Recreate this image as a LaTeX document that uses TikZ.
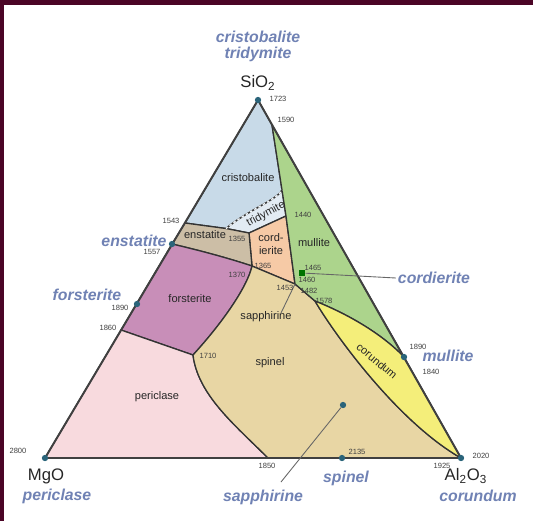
\documentclass[tikz,border=0pt]{standalone}
\usepackage{fontspec}
\setmainfont{Liberation Sans}

\definecolor{cristcol}{RGB}{200,218,232}
\definecolor{tridcol}{RGB}{226,235,243}
\definecolor{enstcol}{RGB}{204,190,166}
\definecolor{cordcol}{RGB}{246,202,166}
\definecolor{forscol}{RGB}{200,142,184}
\definecolor{pericol}{RGB}{248,218,222}
\definecolor{spincol}{RGB}{232,214,164}
\definecolor{mullcol}{RGB}{172,212,140}
\definecolor{corucol}{RGB}{244,238,122}
\definecolor{minlabel}{RGB}{112,130,180}
\definecolor{dotcol}{RGB}{42,100,122}
\definecolor{framecol}{RGB}{75,5,38}

\tikzset{
  bound/.style={draw=black!80, line width=0.75pt, line join=round},
  edge/.style={draw=black!75, line width=1.1pt, line join=round},
  leader/.style={draw=black!60, line width=0.5pt},
  mineral/.style={font=\fontsize{9}{10}\selectfont\bfseries\itshape, text=minlabel, inner sep=1pt},
  field/.style={font=\fontsize{6.3}{7}\selectfont, text=black!85, inner sep=0.5pt},
  temp/.style={font=\fontsize{4.3}{5}\selectfont, text=black!75, inner sep=0.3pt},
  oxide/.style={font=\fontsize{9.5}{11}\selectfont, text=black!85, inner sep=1pt},
  compdot/.style={circle, fill=dotcol, inner sep=0pt, minimum size=3.6pt}
}

\begin{document}
\begin{tikzpicture}[x=0.02cm, y=-0.02cm]
  \useasboundingbox (0,0) rectangle (533,521);
  \fill[white] (0,0) rectangle (533,521);
  \fill[framecol] (0,0) rectangle (533,4.5);
  \fill[framecol] (0,0) rectangle (3.5,521);

  \coordinate (si) at (258,100);
  \coordinate (mg) at (45,458);
  \coordinate (al) at (461,458);
  \coordinate (t1590) at (272,125);
  \coordinate (t1543) at (185,223);
  \coordinate (t1557) at (172,244);
  \coordinate (t1890f) at (137,304);
  \coordinate (t1860) at (121,330);
  \coordinate (t1710) at (193,355);
  \coordinate (t1850) at (268,458);
  \coordinate (t2135) at (342,458);
  \coordinate (t1890m) at (404,357);
  \coordinate (qinv) at (282,190);
  \coordinate (qtr) at (226,228.5);
  \coordinate (t1355) at (249,233);
  \coordinate (t1440) at (286,216);
  \coordinate (t1365) at (252,266);
  \coordinate (tjn) at (295,284);
  \coordinate (t1578) at (315,301);
  \coordinate (sapend) at (281,313);
  \coordinate (sapfoot) at (281,482);

  \filldraw[bound, fill=cristcol] (si) -- (t1590) -- (qinv) .. controls (277,200) and (248,210) .. (qtr) -- (t1543) -- cycle;
  \filldraw[bound, fill=tridcol] (qinv) .. controls (277,200) and (248,210) .. (qtr) -- (t1355) -- (t1440) -- cycle;
  \filldraw[bound, fill=cordcol] (t1355) -- (t1440) -- (tjn) -- (t1365) -- cycle;
  \filldraw[bound, fill=enstcol] (t1543) -- (qtr) -- (t1355) -- (t1365) .. controls (228,258) and (198,250) .. (t1557) -- cycle;
  \filldraw[bound, fill=forscol] (t1557) .. controls (198,250) and (228,258) .. (t1365) .. controls (248,285) and (225,320) .. (t1710) -- (t1860) -- cycle;
  \filldraw[bound, fill=pericol] (mg) -- (t1860) -- (t1710) .. controls (198,395) and (235,425) .. (t1850) -- cycle;
  \filldraw[bound, fill=spincol] (t1710) .. controls (225,320) and (248,285) .. (t1365) -- (tjn) -- (t1578) .. controls (335,335) and (398,422) .. (al) -- (t1850) .. controls (235,425) and (198,395) .. (t1710) -- cycle;
  \filldraw[bound, fill=mullcol] (t1590) -- (t1890m) .. controls (380,332) and (345,313) .. (t1578) -- (tjn) -- (t1440) -- cycle;
  \filldraw[bound, fill=corucol] (t1578) .. controls (345,313) and (380,332) .. (t1890m) -- (al) .. controls (398,422) and (335,335) .. (t1578) -- cycle;
  \draw[bound, draw=tridcol!40!white] (qinv) .. controls (277,200) and (248,210) .. (qtr);
  \draw[bound, dash pattern=on 1.2pt off 1.6pt] (qinv) .. controls (277,200) and (248,210) .. (qtr);
  \draw[leader] (tjn) -- (sapend);
  \draw[edge] (si) -- (mg) -- (al) -- cycle;

  \node[compdot] (dsi) at (si) {};
  \node[compdot] (dmg) at (mg) {};
  \node[compdot] (dal) at (al) {};
  \node[compdot] (den) at (t1557) {};
  \node[compdot] (dfo) at (t1890f) {};
  \node[compdot] (dmu) at (t1890m) {};
  \node[compdot] (dsp) at (t2135) {};
  \node[compdot] (dsa) at (343,405) {};
  \node[rectangle, fill=green!45!black, inner sep=0pt, minimum size=3.6pt] (dco) at (302,273) {};

  \node[mineral] (lcrist) at (258,37) {cristobalite};
  \node[mineral] (ltrid) at (258,54) {tridymite};
  \node[oxide] (lsio) at (258,83) {SiO\textsubscript{2}};
  \node[oxide] (lmgo) at (46,476) {MgO};
  \node[oxide] (lalo) at (466,476) {Al\textsubscript{2}O\textsubscript{3}};
  \node[mineral] (lpcl) at (57,496) {periclase};
  \node[mineral] (lcor) at (478,496) {corundum};
  \node[mineral] (lspi) at (346,478) {spinel};
  \node[mineral] (lsap) at (263,497) {sapphirine};
  \node[mineral] (lens) at (134,241) {enstatite};
  \node[mineral] (lfor) at (87,295) {forsterite};
  \node[mineral] (lmul) at (448,356) {mullite};
  \node[mineral] (lcord) at (434,278) {cordierite};
  \draw[leader] (dco) -- (lcord.west);
  \draw[leader] (dsa) -- (sapfoot);

  \node[field] (fcrist) at (248,178) {cristobalite};
  \node[field, rotate=28] (ftrid) at (266,214) {tridymite};
  \node[field] (fens) at (205,235) {enstatite};
  \node[field, align=center] (fcord) at (271,244) {cord-\\ierite};
  \node[field] (fmul) at (314,243) {mullite};
  \node[field] (ffor) at (190,299) {forsterite};
  \node[field] (fsap) at (266,317) {sapphirine};
  \node[field] (fspi) at (270,363) {spinel};
  \node[field] (fpcl) at (157,397) {periclase};
  \node[field, rotate=-40] (fcor) at (377,361) {corundum};

  \node[temp] at (278,99) {1723};
  \node[temp] at (286,120) {1590};
  \node[temp] at (171,221) {1543};
  \node[temp] at (152,252) {1557};
  \node[temp] at (120,308) {1890};
  \node[temp] at (108,328) {1860};
  \node[temp] at (18,451) {2800};
  \node[temp] at (267,466) {1850};
  \node[temp] at (357,452) {2135};
  \node[temp] at (442,466) {1925};
  \node[temp] at (481,456) {2020};
  \node[temp] at (418,347) {1890};
  \node[temp] at (431,372) {1840};
  \node[temp] at (303,215) {1440};
  \node[temp] at (237,239) {1355};
  \node[temp] at (263,266) {1365};
  \node[temp] at (237,275) {1370};
  \node[temp] at (285,288) {1453};
  \node[temp] at (313,268) {1465};
  \node[temp] at (307,279.5) {1460};
  \node[temp] at (309,291) {1482};
  \node[temp] at (324,301) {1578};
  \node[temp] at (208,356) {1710};
\end{tikzpicture}
\end{document}
